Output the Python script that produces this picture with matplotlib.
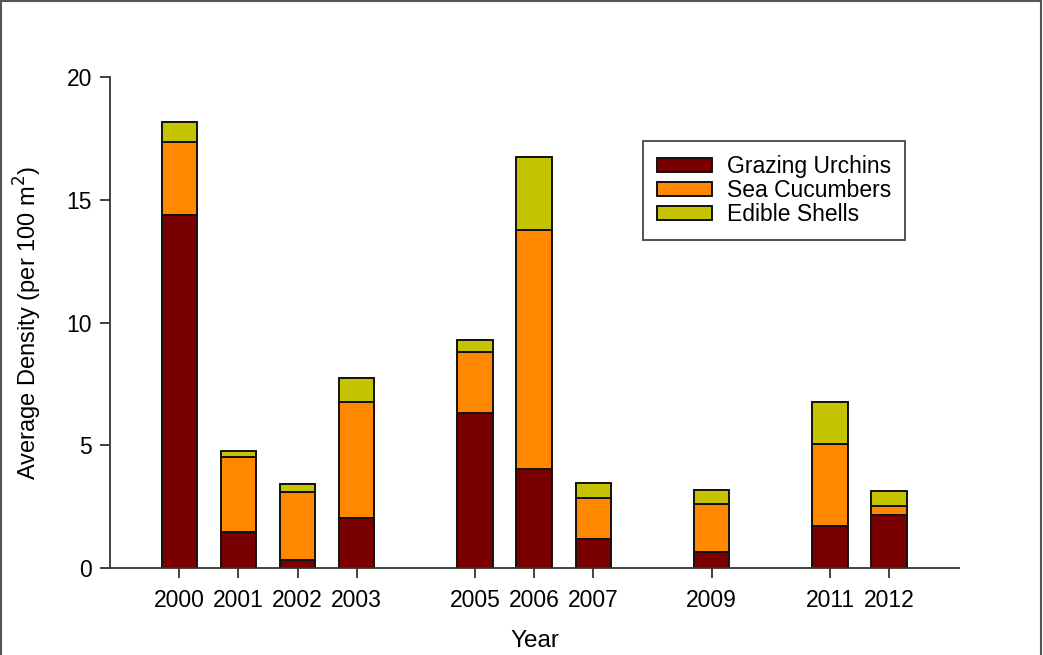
import numpy as np
import matplotlib.pyplot as plt
from matplotlib.patches import Rectangle

plt.rcParams['font.family'] = ['Liberation Sans', 'DejaVu Sans']

years = [2000, 2001, 2002, 2003, 2005, 2006, 2007, 2009, 2011, 2012]
urchins = [14.38, 1.47, 0.33, 2.04, 6.31, 4.03, 1.18, 0.65, 1.71, 2.16]
cucumbers = [2.97, 3.05, 2.77, 4.72, 2.49, 9.74, 1.67, 1.96, 3.34, 0.37]
shells = [0.82, 0.25, 0.32, 0.98, 0.49, 2.97, 0.61, 0.57, 1.71, 0.61]

labels = ['Grazing Urchins', 'Sea Cucumbers', 'Edible Shells']
colors = ['#7a0000', '#ff8800', '#c4c400']

fig = plt.figure(figsize=(10.43, 6.55), dpi=100)
ax = fig.add_axes([0.1055, 0.1328, 0.814, 0.7496])

x = np.array(years, dtype=float)
u = np.array(urchins)
c = np.array(cucumbers)
s = np.array(shells)
w = 0.6
kw = dict(width=w, edgecolor='#111111', linewidth=1.4)
ax.bar(x, u, color=colors[0], label=labels[0], **kw)
ax.bar(x, c, bottom=u, color=colors[1], label=labels[1], **kw)
ax.bar(x, s, bottom=u + c, color=colors[2], label=labels[2], **kw)

ax.set_xlim(1998.83, 2013.18)
ax.set_ylim(0, 20)
ax.set_xticks(years)
ax.set_xticklabels([str(y) for y in years])
ax.set_yticks([0, 5, 10, 15, 20])

for side in ['top', 'right']:
    ax.spines[side].set_visible(False)
for side in ['left', 'bottom']:
    ax.spines[side].set_linewidth(1.3)
    ax.spines[side].set_color('#333333')
ax.tick_params(axis='both', direction='out', length=7, width=1.3,
               color='#333333', labelsize=16.5)
ax.tick_params(axis='x', pad=8)
ax.tick_params(axis='y', pad=6)

ax.set_xlabel('Year', fontsize=17.5, labelpad=13)
ax.set_ylabel('Average Density (per 100 m$^2$)', fontsize=17, labelpad=16)

leg = ax.legend(loc='upper left', bbox_to_anchor=(0.628, 0.8697), fontsize=16.5,
                fancybox=False, framealpha=1, edgecolor='#444444',
                handlelength=2.4, handleheight=0.55, handletextpad=0.65,
                labelspacing=0.05, borderpad=0.6, borderaxespad=0)
leg.get_frame().set_linewidth(1.3)

# thin frame around the whole figure
fig.patches.append(Rectangle((0.001, -0.01), 0.997, 1.008, transform=fig.transFigure,
                             fill=False, edgecolor='#555555', linewidth=1.5))

fig.savefig('out.png', dpi=100)
